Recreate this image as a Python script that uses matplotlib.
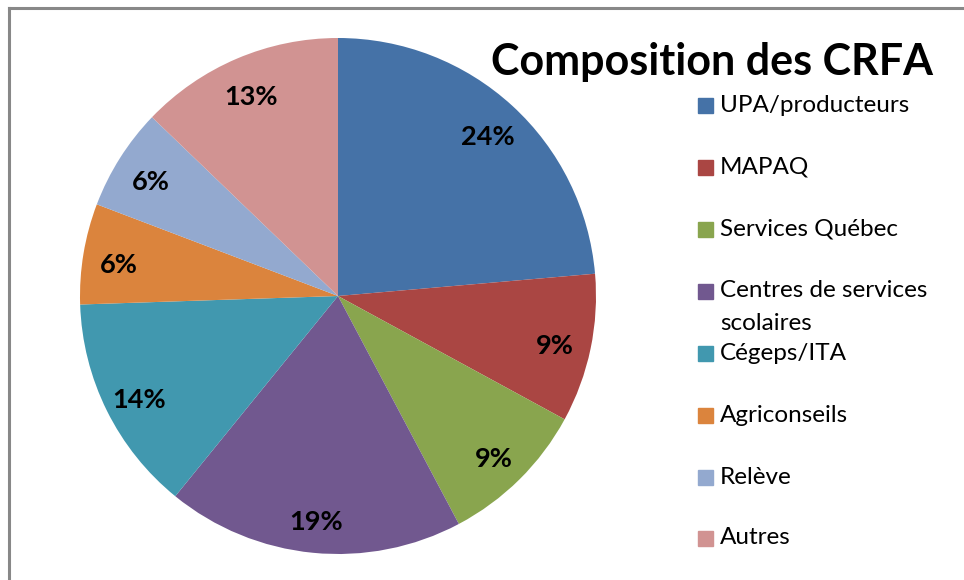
import matplotlib.pyplot as plt
from matplotlib.lines import Line2D
from matplotlib.patches import Rectangle
from matplotlib.transforms import offset_copy

plt.rcParams['font.family'] = ['Lato', 'DejaVu Sans']

categories = ['UPA/producteurs', 'MAPAQ', 'Services Québec',
              'Centres de services\nscolaires', 'Cégeps/ITA', 'Agriconseils',
              'Relève', 'Autres']
shares = [23.6, 9.3, 9.3, 18.6, 13.6, 6.3, 6.4, 12.8]
colors = ['#4572A7', '#AA4643', '#89A54E', '#71588F',
          '#4198AF', '#DB843D', '#93A9CF', '#D19392']

W, H = 964, 580
fig = plt.figure(figsize=(W / 100, H / 100), dpi=100)

# cadre gris
fig.add_artist(Line2D([9 / W, 1], [1 - 8 / H, 1 - 8 / H], color='#888888', lw=2.2))
fig.add_artist(Line2D([9 / W, 9 / W], [0, 1 - 8 / H], color='#888888', lw=2.2))

# camembert
cx, cy, r = 338, 296, 258
ax = fig.add_axes([(cx - r) / W, (H - cy - r) / H, 2 * r / W, 2 * r / H])
wedges, texts, autotexts = ax.pie(
    shares, colors=colors, startangle=90, counterclock=False,
    autopct='%.0f%%', pctdistance=0.86,
    textprops=dict(fontsize=19.5, fontweight='bold', color='black'))
ax.set_aspect('equal')
ax.set_xlim(-1, 1)
ax.set_ylim(-1, 1)
# étiquettes un peu plus bas, comme dans Excel
for t in autotexts:
    t.set_transform(offset_copy(ax.transData, fig=fig, y=-5, units='dots'))

fig.text(712 / W, 1 - 62 / H, 'Composition des CRFA', ha='center', va='center',
         fontsize=31, fontweight='bold')

# légende
ys = [105, 167, 229, 291, 353, 415, 477, 538]
for lab, col, y in zip(categories, colors, ys):
    fig.add_artist(Rectangle((698 / W, 1 - (y + 7.5) / H), 15 / W, 15 / H,
                             transform=fig.transFigure, color=col))
    if '\n' in lab:
        l1, l2 = lab.split('\n')
        fig.text(720 / W, 1 - y / H, l1, ha='left', va='center', fontsize=17.5)
        fig.text(720 / W, 1 - (y + 33) / H, l2, ha='left', va='center', fontsize=17.5)
    else:
        fig.text(720 / W, 1 - y / H, lab, ha='left', va='center', fontsize=17.5)

fig.savefig('out.png', dpi=100)
